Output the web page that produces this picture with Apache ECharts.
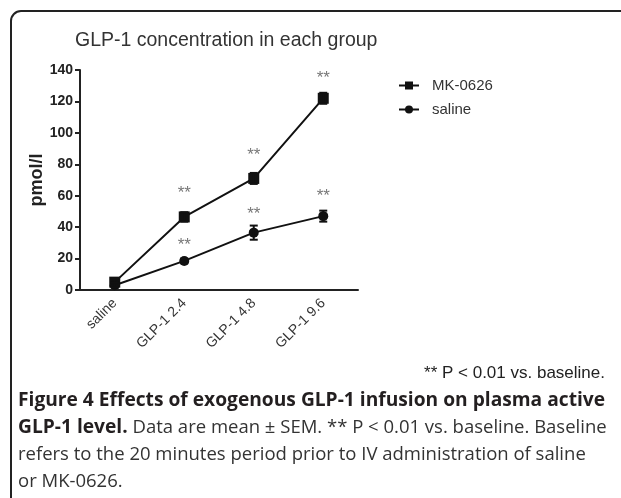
<!DOCTYPE html>
<html>
<head>
<meta charset="utf-8">
<script src="https://cdn.jsdelivr.net/npm/echarts@6/dist/echarts.min.js"></script>
<style>
  html, body { margin: 0; padding: 0; background: #fff; }
  #chart { width: 621px; height: 498px; }
</style>
</head>
<body>
<div id="chart"></div>
<script>
// data
const categories = ['saline', 'GLP-1 2.4', 'GLP-1 4.8', 'GLP-1 9.6']
const mkMean = [5, 46.5, 71, 122]
const mkSem = [2, 3, 3.5, 3.5]
const salineMean = [3, 18.5, 36.5, 47]
const salineSem = [1.5, 1.5, 4.5, 3.5]
// where the "**" marks sit (y value), null = none
const mkStars = [null, 64, 88, 137]
const salineStars = [null, 31, 51, 62]
const yTicks = [0, 20, 40, 60, 80, 100, 120, 140]

const chart = echarts.init(document.getElementById('chart'))

const errorData = (mean, sem) => mean.map((m, i) => [i, m, sem[i]])
const starData = (arr) => arr.map((v, i) => (v == null ? null : [i, v])).filter(Boolean)

// error bars with caps
function renderError(params, api) {
  const x = api.value(0)
  const m = api.value(1)
  const s = api.value(2)
  const hi = api.coord([x, m + s])
  const lo = api.coord([x, m - s])
  const w = 4
  const style = { stroke: '#111', lineWidth: 2 }
  return {
    type: 'group',
    children: [
      { type: 'line', shape: { x1: hi[0], y1: hi[1], x2: lo[0], y2: lo[1] }, style },
      { type: 'line', shape: { x1: hi[0] - w, y1: hi[1], x2: hi[0] + w, y2: hi[1] }, style },
      { type: 'line', shape: { x1: lo[0] - w, y1: lo[1], x2: lo[0] + w, y2: lo[1] }, style },
    ],
  }
}

const starSeries = (arr) => ({
  type: 'scatter',
  data: starData(arr),
  symbolSize: 0,
  silent: true,
  label: {
    show: true,
    position: 'inside',
    formatter: '**',
    color: '#555',
    fontSize: 17,
    fontFamily: 'Liberation Sans',
    offset: [0, 4],
  },
  z: 5,
})

chart.setOption({
  animation: false,
  title: {
    text: 'GLP-1 concentration in each group',
    left: 70,
    top: 26,
    textStyle: {
      fontFamily: 'Liberation Sans',
      fontSize: 19.5,
      fontWeight: 'normal',
      color: '#333',
    },
  },
  legend: {
    left: 393,
    top: 73,
    orient: 'vertical',
    itemGap: 9,
    itemWidth: 20,
    itemHeight: 10,
    data: ['MK-0626', 'saline'],
    textStyle: { fontFamily: 'Liberation Sans', fontSize: 15, color: '#333', padding: [0, 0, 0, 8] },
  },
  grid: { left: 80, right: 263, top: 70, bottom: 208 },
  xAxis: {
    type: 'category',
    data: categories,
    boundaryGap: true,
    axisLine: { lineStyle: { color: '#222', width: 2 } },
    axisTick: { alignWithLabel: true, length: 6, lineStyle: { color: '#222', width: 2 } },
    axisLabel: {
      rotate: 45,
      margin: 11,
      fontFamily: 'Liberation Sans',
      fontSize: 14,
      color: '#333',
    },
  },
  yAxis: {
    type: 'value',
    min: 0,
    max: 140,
    interval: 20,
    name: 'pmol/l',
    nameLocation: 'middle',
    nameGap: 31,
    nameTextStyle: { fontFamily: 'Liberation Sans', fontSize: 18, fontWeight: 'bold', color: '#222' },
    axisLine: { show: true, lineStyle: { color: '#222', width: 2 } },
    axisTick: { show: true, length: 5, lineStyle: { color: '#222', width: 2 } },
    splitLine: { show: false },
    axisLabel: {
      margin: 7,
      fontFamily: 'Liberation Sans',
      fontSize: 14,
      fontWeight: 'bold',
      color: '#222',
      formatter: (v) => (yTicks.includes(v) ? String(v) : ''),
    },
  },
  series: [
    {
      name: 'MK-0626',
      type: 'line',
      data: mkMean,
      symbol: 'rect',
      symbolSize: 11,
      lineStyle: { color: '#111', width: 2 },
      itemStyle: { color: '#111' },
      z: 3,
    },
    {
      name: 'saline',
      type: 'line',
      data: salineMean,
      symbol: 'circle',
      symbolSize: 10,
      lineStyle: { color: '#111', width: 2 },
      itemStyle: { color: '#111' },
      z: 3,
    },
    { type: 'custom', renderItem: renderError, data: errorData(mkMean, mkSem), z: 4, silent: true },
    { type: 'custom', renderItem: renderError, data: errorData(salineMean, salineSem), z: 4, silent: true },
    starSeries(mkStars),
    starSeries(salineStars),
  ],
  graphic: [
    // figure frame: rounded corner at top-left, running off right and bottom
    {
      type: 'rect',
      shape: { x: 11, y: 11, width: 640, height: 520, r: 10 },
      style: { fill: 'none', stroke: '#222', lineWidth: 2 },
      silent: true,
    },
    {
      type: 'text',
      right: 16,
      top: 365,
      style: {
        text: '** P < 0.01 vs. baseline.',
        fontFamily: 'Liberation Sans',
        fontSize: 17,
        fill: '#222',
      },
    },
    {
      type: 'text',
      left: 18,
      top: 387,
      style: {
        text: '{b|Figure 4 Effects of exogenous GLP-1 infusion on plasma active}\n' +
          '{b|GLP-1 level.} Data are mean ± SEM. ** P < 0.01 vs. baseline. Baseline\n' +
          'refers to the 20 minutes period prior to IV administration of saline\n' +
          'or MK-0626.',
        fontFamily: 'Open Sans',
        fontSize: 18.5,
        lineHeight: 27,
        fill: '#333',
        rich: {
          b: { fontFamily: 'Open Sans', fontSize: 19.2, fontWeight: 'bold', fill: '#231f20', lineHeight: 27 },
        },
      },
    },
  ],
})
</script>
</body>
</html>
